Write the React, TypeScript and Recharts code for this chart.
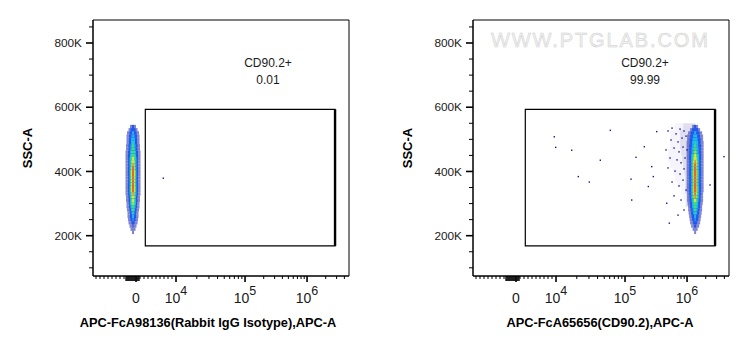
import React from 'react';
import { ScatterChart, Scatter, XAxis, YAxis, ReferenceArea, ReferenceLine } from 'recharts';

const FONT = '"Liberation Sans", Arial, Helvetica, sans-serif';

// ---------- axis ranges ----------
const X_RANGE = [-10750, 4750000]; // APC-A
const Y_RANGE = [74500, 871600]; // SSC-A

// logicle-like display transform (linear around zero, log above 10^4)
const LIN_LIMIT = 1e4;
const DECADE_1 = 1.725;
const DECADE_2 = 1.55;
function toU(v: number): number {
  if (v <= LIN_LIMIT) return v / LIN_LIMIT;
  const l = Math.log10(v);
  if (l <= 5) return 1 + (l - 4) * DECADE_1;
  return 1 + DECADE_1 + (l - 5) * DECADE_2;
}

// ---------- ticks ----------
const xMajorValues = [0, 1e4, 1e5, 1e6];
const xMajorExponents = ['', '4', '5', '6'];
const xMinorValues = [
  -10000, -9000, -8000, -7000, -6000, -5000, -4000, -3000,
  1000, 2000, 3000, 4000, 5000, 6000, 7000, 8000, 9000,
  20000, 30000, 40000, 50000, 60000, 70000, 80000, 90000,
  200000, 300000, 400000, 500000, 600000, 700000, 800000, 900000,
  2000000, 3000000, 4000000,
];
const xZeroBlock = [-2500, -2250, -2000, -1750, -1500, -1250, -1000, -750, -500, -250, 250, 500, 750];

const yTickValues = [100000, 150000, 200000, 250000, 300000, 350000, 400000, 450000, 500000, 550000, 600000, 650000, 700000, 750000, 800000, 850000];
const yMajorValues = [200000, 400000, 600000, 800000];

// ---------- gate ----------
const gateApc = [2325, 2830000];
const gateSsc = [168000, 593500];

// ---------- density levels ----------
const levelColors = ['#2a34b0', '#1f58f0', '#1ab6ee', '#3ed986', '#d9e23c', '#ec6428'];
const levelOpacity = [0.6, 1, 1, 1, 1, 1];

// rows: [SSC (K), half-widths per level in display units]
const leftCenterApc = -750;
const leftRows: number[][] = [
  [540, 0.075, 0.025],
  [530, 0.1125, 0.0625],
  [520, 0.15, 0.0875, 0.025],
  [510, 0.1625, 0.1, 0.0375],
  [500, 0.1625, 0.1, 0.05],
  [490, 0.1625, 0.1, 0.05, 0.0125],
  [480, 0.175, 0.1125, 0.0625, 0.025],
  [470, 0.175, 0.1125, 0.0625, 0.0375],
  [460, 0.1875, 0.125, 0.075, 0.05],
  [450, 0.1875, 0.125, 0.075, 0.05],
  [440, 0.1875, 0.125, 0.0875, 0.0625, 0.025],
  [430, 0.1875, 0.125, 0.0875, 0.0625, 0.0375],
  [420, 0.1875, 0.125, 0.0875, 0.0625, 0.0375, 0.0125],
  [410, 0.1875, 0.125, 0.0875, 0.0625, 0.05, 0.025],
  [400, 0.1875, 0.125, 0.0875, 0.075, 0.05, 0.025],
  [390, 0.1875, 0.125, 0.0875, 0.075, 0.05, 0.025],
  [380, 0.1875, 0.125, 0.0875, 0.075, 0.05, 0.025],
  [370, 0.1875, 0.125, 0.0875, 0.075, 0.05, 0.025],
  [360, 0.1875, 0.125, 0.0875, 0.075, 0.05, 0.025],
  [350, 0.1875, 0.125, 0.0875, 0.075, 0.05, 0.025],
  [340, 0.1875, 0.125, 0.0875, 0.075, 0.05, 0.025],
  [330, 0.1875, 0.125, 0.0875, 0.0625, 0.0375, 0.0125],
  [320, 0.175, 0.1125, 0.075, 0.0625, 0.0375],
  [310, 0.175, 0.1125, 0.075, 0.05, 0.025],
  [300, 0.1625, 0.1, 0.075, 0.05, 0.0125],
  [290, 0.1625, 0.1, 0.0625, 0.0375],
  [280, 0.15, 0.0875, 0.05, 0.025],
  [270, 0.1375, 0.075, 0.0375, 0.0125],
  [260, 0.1375, 0.075, 0.025],
  [250, 0.125, 0.0625, 0.0125],
  [240, 0.1125, 0.0375],
  [230, 0.0875, 0.0125],
  [220, 0.0625],
  [210, 0.025],
];

const rightCenterApc = 1350000;
const rightRows: number[][] = [
  [540, 0.075, 0.025],
  [530, 0.125, 0.075],
  [520, 0.175, 0.1125, 0.025],
  [510, 0.2, 0.125, 0.05],
  [500, 0.2, 0.1375, 0.0625],
  [490, 0.2125, 0.1375, 0.075, 0.0125],
  [480, 0.2125, 0.15, 0.075, 0.025],
  [470, 0.2125, 0.15, 0.0875, 0.0375],
  [460, 0.2125, 0.15, 0.0875, 0.05, 0.0125],
  [450, 0.2125, 0.15, 0.1, 0.0625, 0.025],
  [440, 0.2125, 0.15, 0.1, 0.0625, 0.0375],
  [430, 0.2125, 0.15, 0.1, 0.075, 0.05, 0.0125],
  [420, 0.2125, 0.15, 0.1, 0.075, 0.05, 0.025],
  [410, 0.2125, 0.15, 0.1, 0.075, 0.05, 0.03],
  [400, 0.2125, 0.15, 0.1, 0.075, 0.05, 0.03],
  [390, 0.2125, 0.15, 0.1, 0.075, 0.05, 0.03],
  [380, 0.2125, 0.15, 0.1, 0.075, 0.05, 0.03],
  [370, 0.2125, 0.15, 0.1, 0.075, 0.05, 0.03],
  [360, 0.2125, 0.15, 0.1, 0.075, 0.05, 0.03],
  [350, 0.2125, 0.15, 0.1, 0.075, 0.05, 0.03],
  [340, 0.2125, 0.15, 0.1, 0.075, 0.05, 0.03],
  [330, 0.2, 0.15, 0.1, 0.075, 0.05, 0.02],
  [320, 0.2, 0.1375, 0.1, 0.075, 0.0375, 0.0125],
  [310, 0.2, 0.1375, 0.0875, 0.0625, 0.025],
  [300, 0.1875, 0.125, 0.075, 0.05],
  [290, 0.175, 0.125, 0.075, 0.0375],
  [280, 0.175, 0.1125, 0.0625, 0.025],
  [270, 0.1625, 0.1, 0.05, 0.0125],
  [260, 0.15, 0.0875, 0.025],
  [250, 0.1375, 0.075, 0.0125],
  [240, 0.125, 0.05],
  [230, 0.1, 0.025],
  [220, 0.0625],
  [210, 0.025],
];

// sparse halo on the low side of the positive population: [SSC (K), outer, inner]
const rightHalo: number[][] = [
  [540, 0.5, 0.3],
  [520, 0.625, 0.375],
  [500, 0.625, 0.375],
  [480, 0.625, 0.375],
  [460, 0.675, 0.35],
  [440, 0.675, 0.325],
  [420, 0.625, 0.3],
  [400, 0.55, 0.275],
  [380, 0.5, 0.25],
  [360, 0.45, 0.25],
  [340, 0.35, 0.25],
  [320, 0.3, 0.225],
  [300, 0.25, 0.225],
];

// isolated events: [APC, SSC]
const leftOutliers: number[][] = [[6825, 379000]];
const rightOutliers: number[][] = [
  [9575, 508000], [9925, 475000], [16890, 466000], [61240, 528000], [43850, 435000],
  [21040, 384000], [30380, 367000], [125000, 376000], [150500, 444000], [204700, 477000],
  [128200, 311000], [237600, 353000], [518200, 239000], [324400, 524000], [269600, 415000],
  [286100, 384000], [3950000, 446000], [2350000, 358000], [470500, 301000],
  // sparse events next to the positive population
  [493700, 526000], [573100, 535000], [664700, 517000], [771200, 532000], [894400, 526000],
  [552000, 498000], [715900, 492000], [830500, 504000], [963600, 510000],
  [458400, 467000], [617100, 473000], [743000, 461000], [861900, 476000], [1000000, 467000],
  [531800, 442000], [689900, 436000], [800100, 427000], [928400, 442000],
  [493700, 411000], [640500, 401000], [771200, 392000], [894400, 408000],
  [573100, 367000], [743000, 355000], [861900, 373000], [963600, 342000],
  [617100, 324000], [800100, 311000], [894400, 280000], [715900, 264000],
];

const panels = [
  { left: 0, width: 375, marginRight: 26, title: 'APC-FcA98136(Rabbit IgG Isotype),APC-A', titleX: 208, gateName: 'CD90.2+', gateValue: '0.01', annX: 268, center: leftCenterApc, rows: leftRows, halo: [] as number[][], outliers: leftOutliers, watermark: false },
  { left: 380, width: 370, marginRight: 21, title: 'APC-FcA65656(CD90.2),APC-A', titleX: 600, gateName: 'CD90.2+', gateValue: '99.99', annX: 645, center: rightCenterApc, rows: rightRows, halo: rightHalo, outliers: rightOutliers, watermark: true },
];

const keyOf = (u: number) => u.toFixed(4);
const xTickKind = new Map<string, { kind: string; exp?: string }>();
xZeroBlock.forEach((v) => xTickKind.set(keyOf(toU(v)), { kind: 'block' }));
xMinorValues.forEach((v) => xTickKind.set(keyOf(toU(v)), { kind: 'minor' }));
xMajorValues.forEach((v, i) => xTickKind.set(keyOf(toU(v)), { kind: 'major', exp: xMajorExponents[i] }));
const xTicksU = [...xZeroBlock, ...xMinorValues, ...xMajorValues].map(toU).sort((a, b) => a - b);

const renderXTick = (props: any) => {
  const { x, y, payload } = props;
  const info = xTickKind.get(keyOf(payload.value)) || { kind: 'minor' };
  if (info.kind === 'block') {
    return <line x1={x} x2={x} y1={y} y2={y + 5} stroke="#000" strokeWidth={1.3} />;
  }
  if (info.kind === 'minor') {
    return <line x1={x} x2={x} y1={y} y2={y + 3} stroke="#000" strokeWidth={1} />;
  }
  return (
    <g>
      <line x1={x} x2={x} y1={y} y2={y + 6} stroke="#000" strokeWidth={1.6} />
      <text x={x} y={y + 27.3} textAnchor="middle" fontFamily={FONT} fontSize={14} fill="#1a1a1a">
        {info.exp ? (
          <>
            <tspan>10</tspan>
            <tspan dy={-8} fontSize={12.5}>{info.exp}</tspan>
          </>
        ) : (
          '0'
        )}
      </text>
    </g>
  );
};

const renderYTick = (props: any) => {
  const { x, y, payload } = props;
  const major = yMajorValues.includes(payload.value);
  return (
    <g>
      <line x1={x - (major ? 7 : 4)} x2={x} y1={y} y2={y} stroke="#000" strokeWidth={major ? 1.6 : 1} />
      {major && (
        <text x={x - 11} y={y + 4.2} textAnchor="end" fontFamily={FONT} fontSize={11.8} fill="#1a1a1a">
          {`${payload.value / 1000}K`}
        </text>
      )}
    </g>
  );
};

const dotShape = (p: any) => <rect x={p.cx - 0.7} y={p.cy - 0.7} width={1.4} height={1.4} fill="#14148c" />;

function Panel({ cfg }: { cfg: (typeof panels)[number] }) {
  const cu = toU(cfg.center);
  const xDomain = [toU(X_RANGE[0]), toU(X_RANGE[1])];
  const outlierData = cfg.outliers.map(([apc, ssc]) => ({ u: toU(apc), ssc }));
  return (
    <div style={{ position: 'absolute', left: cfg.left, top: 0 }}>
      <ScatterChart width={cfg.width} height={356} margin={{ top: 20, right: cfg.marginRight, bottom: 0, left: 0 }}>
        <XAxis
          type="number"
          dataKey="u"
          domain={xDomain}
          allowDataOverflow
          ticks={xTicksU}
          interval={0}
          tickSize={0}
          tickMargin={0}
          tickLine={false}
          tick={renderXTick}
          height={80}
          axisLine={{ stroke: '#000', strokeWidth: 1 }}
        />
        <YAxis
          type="number"
          dataKey="ssc"
          domain={Y_RANGE}
          allowDataOverflow
          ticks={yTickValues}
          interval={0}
          tickSize={0}
          tickMargin={0}
          tickLine={false}
          tick={renderYTick}
          width={93}
          axisLine={{ stroke: '#000', strokeWidth: 1 }}
        />
        <ReferenceArea x1={xDomain[0]} x2={xDomain[1]} y1={Y_RANGE[0]} y2={Y_RANGE[1]} fill="none" stroke="#000" strokeWidth={1} ifOverflow="visible" />
        {cfg.halo.map((h, i) => (
          <ReferenceArea key={`ho${i}`} x1={cu - h[1]} x2={cu} y1={(h[0] - 10) * 1000} y2={(h[0] + 10) * 1000} fill="#2a2aa0" fillOpacity={0.05} stroke="none" ifOverflow="visible" />
        ))}
        {cfg.halo.map((h, i) => (
          <ReferenceArea key={`hi${i}`} x1={cu - h[2]} x2={cu} y1={(h[0] - 10) * 1000} y2={(h[0] + 10) * 1000} fill="#2a2aa0" fillOpacity={0.1} stroke="none" ifOverflow="visible" />
        ))}
        {cfg.rows.flatMap((row, ri) =>
          row.slice(1).map((w, li) => (
            <ReferenceArea
              key={`r${ri}-${li}`}
              x1={cu - w}
              x2={cu + w}
              y1={(row[0] - 5) * 1000}
              y2={(row[0] + 5) * 1000}
              fill={levelColors[li]}
              fillOpacity={levelOpacity[li]}
              stroke="none"
              ifOverflow="visible"
            />
          ))
        )}
        <ReferenceArea x1={toU(gateApc[0])} x2={toU(gateApc[1])} y1={gateSsc[0]} y2={gateSsc[1]} fill="none" stroke="#000" strokeWidth={1.2} ifOverflow="visible" />
        <ReferenceLine
          segment={[
            { x: toU(gateApc[1]), y: gateSsc[0] },
            { x: toU(gateApc[1]), y: gateSsc[1] },
          ]}
          stroke="#000"
          strokeWidth={2.4}
          ifOverflow="visible"
        />
        <Scatter data={outlierData} dataKey="ssc" shape={dotShape} isAnimationActive={false} />
      </ScatterChart>
    </div>
  );
}

export default function App() {
  return (
    <div style={{ position: 'absolute', left: 0, top: 0, width: 750, height: 356, background: '#fff', overflow: 'hidden' }}>
      {panels.map((p, i) => (
        <Panel key={i} cfg={p} />
      ))}
      <svg width={750} height={356} style={{ position: 'absolute', left: 0, top: 0, pointerEvents: 'none' }}>
        {panels.map((p, i) => (
          <g key={i} fontFamily={FONT}>
            <text transform={`translate(${p.left + 27},148) rotate(-90)`} textAnchor="middle" dominantBaseline="central" fontSize={13} fontWeight="bold" fill="#000">
              SSC-A
            </text>
            <text x={p.titleX} y={327.3} textAnchor="middle" fontSize={12.8} fontWeight="bold" fill="#000">
              {p.title}
            </text>
            <text x={p.annX} y={67.3} textAnchor="middle" fontSize={12} fill="#1a1a1a">
              {p.gateName}
            </text>
            <text x={p.annX} y={84} textAnchor="middle" fontSize={12} fill="#1a1a1a">
              {p.gateValue}
            </text>
            {p.watermark && (
              <text x={491} y={46.7} fontSize={20} letterSpacing={1.9} fill="#f3f3f3" stroke="#cdcdcd" strokeWidth={0.5}>
                WWW.PTGLAB.COM
              </text>
            )}
          </g>
        ))}
      </svg>
    </div>
  );
}
